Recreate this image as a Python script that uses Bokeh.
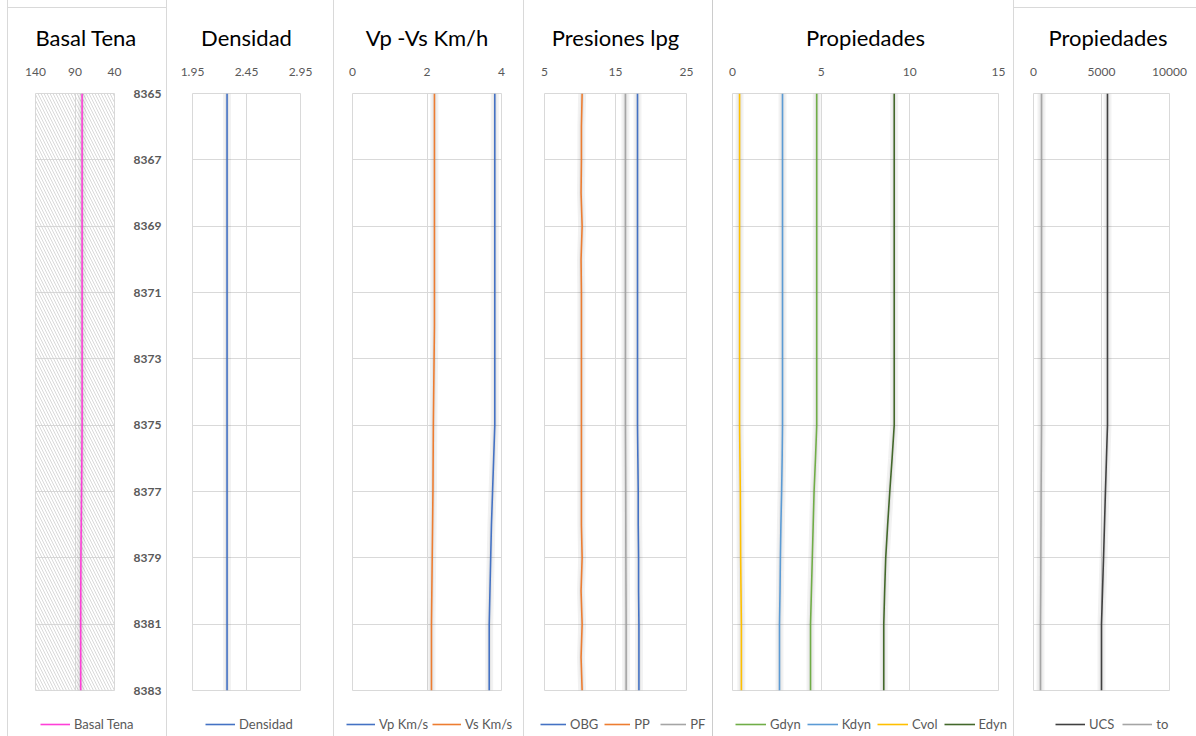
from bokeh.plotting import figure
from bokeh.layouts import row, column
from bokeh.models import (Range1d, FixedTicker, Grid, Legend, LegendItem,
                          BoxAnnotation, Div)
from bokeh.embed import file_html
from bokeh.resources import INLINE

# ---------------- data ----------------
depth = [8365, 8366, 8367, 8368, 8369, 8370, 8371, 8372, 8373, 8374,
         8375, 8376, 8377, 8378, 8379, 8380, 8381, 8382, 8383]
depth_ticks = [8365, 8367, 8369, 8371, 8373, 8375, 8377, 8379, 8381, 8383]

basal_tena = [81.0, 81.0, 81.0, 81.0, 81.0, 81.0, 81.0, 81.0, 81.0, 81.0,
              81.0, 81.3, 81.7, 82.1, 82.5, 82.7, 82.8, 82.8, 82.8]
densidad = [2.27] * 19
vp = [3.82, 3.82, 3.82, 3.82, 3.82, 3.82, 3.82, 3.82, 3.82, 3.82,
      3.82, 3.79, 3.76, 3.73, 3.71, 3.69, 3.67, 3.67, 3.67]
vs = [2.20, 2.20, 2.20, 2.20, 2.20, 2.20, 2.20, 2.20, 2.19, 2.18,
      2.17, 2.165, 2.16, 2.15, 2.14, 2.13, 2.12, 2.12, 2.12]
obg = [18.1, 18.1, 18.1, 18.1, 18.1, 18.1, 18.1, 18.1, 18.1, 18.1,
       18.1, 18.15, 18.2, 18.2, 18.25, 18.25, 18.3, 18.3, 18.3]
pp = [10.3, 10.2, 10.2, 10.15, 10.3, 10.15, 10.2, 10.2, 10.2, 10.2,
      10.2, 10.2, 10.2, 10.2, 10.3, 10.15, 10.3, 10.15, 10.3]
pf = [16.4, 16.4, 16.4, 16.4, 16.4, 16.4, 16.4, 16.4, 16.4, 16.4,
      16.4, 16.42, 16.44, 16.45, 16.46, 16.48, 16.5, 16.5, 16.5]
gdyn = [4.75, 4.75, 4.75, 4.75, 4.75, 4.75, 4.75, 4.75, 4.75, 4.75,
        4.75, 4.68, 4.6, 4.55, 4.5, 4.45, 4.4, 4.4, 4.4]
kdyn = [2.82, 2.82, 2.82, 2.82, 2.82, 2.82, 2.82, 2.82, 2.82, 2.82,
        2.82, 2.8, 2.77, 2.73, 2.7, 2.68, 2.65, 2.65, 2.65]
cvol = [0.40, 0.40, 0.40, 0.40, 0.40, 0.40, 0.40, 0.40, 0.40, 0.40,
        0.40, 0.42, 0.44, 0.45, 0.46, 0.48, 0.50, 0.50, 0.50]
edyn = [9.12, 9.12, 9.12, 9.12, 9.12, 9.12, 9.12, 9.12, 9.12, 9.12,
        9.12, 9.0, 8.87, 8.75, 8.64, 8.58, 8.53, 8.53, 8.53]
ucs = [5440, 5440, 5440, 5440, 5440, 5440, 5440, 5440, 5440, 5440,
       5440, 5365, 5290, 5220, 5150, 5075, 5000, 5000, 5000]
to_ = [590, 590, 590, 590, 590, 590, 590, 590, 590, 590,
       590, 575, 560, 550, 540, 530, 515, 515, 515]

GRID = "#d9d9d9"
TXT = "#595959"
FONT = "Lato"
BOTTOM = 10      # space under each frame (room for the last depth label)
STRIP_H = 36     # height of the legend strip under each panel


def make_fig(title, xr, xticks, fw, ml, mr, mt, right_axis=False,
             title_align="center", title_offset=0):
    p = figure(x_range=Range1d(*xr), y_range=Range1d(depth_ticks[-1], depth_ticks[0]),
               frame_width=fw, frame_height=597,
               min_border_left=ml, min_border_right=mr,
               min_border_top=mt, min_border_bottom=BOTTOM,
               x_axis_location="above",
               y_axis_location="right" if right_axis else None,
               toolbar_location=None, output_backend="svg",
               background_fill_color="white", border_fill_color="white",
               outline_line_color=GRID, outline_line_width=1,
               title=title)
    p.title.text_font = FONT
    p.title.text_font_size = "22px"
    p.title.text_font_style = "normal"
    p.title.text_color = "#000000"
    p.title.align = title_align
    p.title.offset = title_offset
    p.title.standoff = 27

    ax = p.xaxis[0]
    ax.ticker = FixedTicker(ticks=xticks)
    ax.axis_line_color = None
    ax.major_tick_line_color = None
    ax.minor_tick_line_color = None
    ax.major_label_text_font = FONT
    ax.major_label_text_font_size = "12px"
    ax.major_label_text_color = TXT
    ax.major_label_standoff = 12
    p.xgrid.ticker = FixedTicker(ticks=xticks)
    p.xgrid.grid_line_color = GRID

    if right_axis:
        ay = p.yaxis[0]
        ay.ticker = FixedTicker(ticks=depth_ticks)
        ay.axis_line_color = None
        ay.major_tick_line_color = None
        ay.minor_tick_line_color = None
        ay.major_label_text_font = FONT
        ay.major_label_text_font_size = "12px"
        ay.major_label_text_font_style = "bold"
        ay.major_label_text_color = TXT
        ay.major_label_standoff = 13

    ygrids = [g for g in p.renderers + p.center if isinstance(g, Grid) and g.dimension == 1]
    if ygrids:
        for g in ygrids:
            g.ticker = FixedTicker(ticks=depth_ticks)
            g.grid_line_color = GRID
    else:
        p.add_layout(Grid(dimension=1, ticker=FixedTicker(ticks=depth_ticks),
                          grid_line_color=GRID))
    return p


def add_series(p, series, fig_w, legend_dx, glyph_w=29, spacing=7):
    """Draw the series on p and return a small legend strip figure."""
    q = figure(x_range=Range1d(0, 1), y_range=Range1d(0, 1),
               frame_width=fig_w, frame_height=STRIP_H,
               min_border_left=0, min_border_right=0,
               min_border_top=0, min_border_bottom=0,
               x_axis_location=None, y_axis_location=None,
               toolbar_location=None, output_backend="svg",
               background_fill_color="white", border_fill_color="white",
               outline_line_color=None)
    q.grid.visible = False
    items = []
    for label, vals, color in series:
        p.line(vals, depth, line_color="#000000", line_alpha=0.05, line_width=8)
        p.line(vals, depth, line_color="#000000", line_alpha=0.05, line_width=4)
        p.line(vals, depth, line_color=color, line_width=1.6)
        # legend key in the strip (same series; falls outside the strip's ranges)
        r = q.line(vals, depth, line_color=color, line_width=1.6)
        items.append(LegendItem(label=label, renderers=[r]))
    leg = Legend(items=items, location=(legend_dx, 2), orientation="horizontal",
                 glyph_width=glyph_w, glyph_height=20, label_standoff=4, spacing=spacing,
                 padding=0, margin=0, border_line_color=None,
                 background_fill_alpha=0,
                 label_text_font=FONT, label_text_font_size="13px",
                 label_text_color=TXT, label_height=20)
    q.add_layout(leg, "center")
    return q


# Panel 1 - Basal Tena
p1 = make_fig("Basal Tena", (140, 40), [140, 90, 40], 79, 27, 52, 85,
              right_axis=True, title_align="left", title_offset=0)
p1.add_layout(BoxAnnotation(fill_alpha=0, line_color=None, hatch_pattern="\\",
                            hatch_color="#cfcfcf", hatch_scale=6, hatch_weight=0.8,
                            level="underlay"))
l1 = add_series(p1, [("Basal Tena", basal_tena, "#FF3FD8")], 158, 32, glyph_w=30)

# Panel 2 - Densidad
p2 = make_fig("Densidad", (1.95, 2.95), [1.95, 2.45, 2.95], 108, 25, 33, 93)
l2 = add_series(p2, [("Densidad", densidad, "#4472C4")], 166, 38, glyph_w=30)

# Panel 3 - Vp Vs
p3 = make_fig("Vp -Vs Km/h", (0, 4), [0, 2, 4], 149, 18, 22, 93)
l3 = add_series(p3, [("Vp Km/s", vp, "#4472C4"), ("Vs Km/s", vs, "#ED7D31")],
                189, 12, glyph_w=29, spacing=4)

# Panel 4 - Presiones
p4 = make_fig("Presiones lpg", (5, 25), [5, 15, 25], 142, 20, 26, 93)
l4 = add_series(p4, [("OBG", obg, "#4472C4"), ("PP", pp, "#ED7D31"),
                     ("PF", pf, "#A5A5A5")], 188, 16, glyph_w=26, spacing=6)

# Panel 5 - Propiedades
p5 = make_fig("Propiedades", (0, 15), [0, 5, 10, 15], 266, 19, 15, 93)
l5 = add_series(p5, [("Gdyn", gdyn, "#70AD47"), ("Kdyn", kdyn, "#5B9BD5"),
                     ("Cvol", cvol, "#FFC000"), ("Edyn", edyn, "#43682B")],
                300, 22, glyph_w=31, spacing=6)

# Panel 6 - Propiedades (UCS)
p6 = make_fig("Propiedades", (0, 10000), [0, 5000, 10000], 136, 19, 27, 85,
              title_align="left", title_offset=15)
l6 = add_series(p6, [("UCS", ucs, "#404040"), ("to", to_, "#A5A5A5")], 182, 41,
                glyph_w=30, spacing=8)


def block(w, h, color=None):
    st = {"background-color": color} if color else {}
    return Div(text="", width=w, height=h, margin=0, styles=st)


def boxed(p, q, w):
    return column(block(w, 7), block(w, 1, GRID), p, q, spacing=0)


def plain(p, q):
    return column(p, q, spacing=0)


layout = row(block(7, 736), block(1, 736, GRID),
             boxed(p1, l1, 158), block(1, 736, GRID),
             plain(p2, l2), block(1, 736, GRID),
             plain(p3, l3), block(1, 736, GRID),
             plain(p4, l4), block(1, 736, "#cccccc"),
             plain(p5, l5), block(1, 736, GRID),
             boxed(p6, l6, 182), spacing=0)

with open("out.html", "w") as f:
    f.write(file_html(layout, INLINE))
